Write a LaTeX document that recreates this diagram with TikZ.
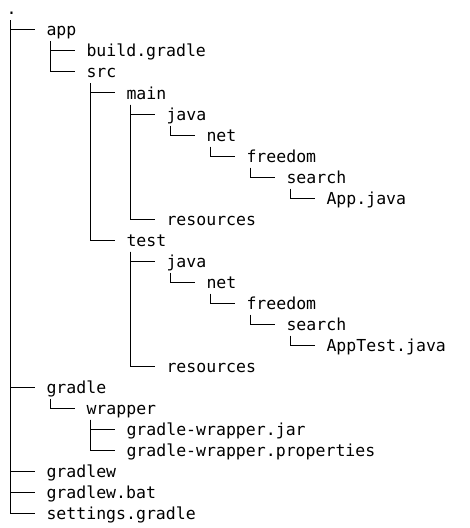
\documentclass[tikz,border=0pt]{standalone}
\usepackage{fontspec}
\setmonofont{DejaVu Sans Mono}
\begin{document}
\begin{tikzpicture}
  [x=0.75pt,y=-0.75pt,line width=0.75pt,
   every node/.style={anchor=west,inner xsep=8.25pt,inner ysep=0pt,
     text height=12.75pt,text depth=3.75pt,
     font=\ttfamily\fontsize{12.4}{14}\selectfont}]
  \useasboundingbox (0,0) rectangle (469,528);
  \node (root) at (-5,9) {.};
  \node (app) at (35,30) {app};
  \node (buildgradle) at (75,51) {build.gradle};
  \node (src) at (75,72) {src};
  \node (main) at (115,93) {main};
  \node (mjava) at (155,114) {java};
  \node (mnet) at (195,135) {net};
  \node (mfreedom) at (235,156) {freedom};
  \node (msearch) at (275,177) {search};
  \node (appjava) at (315,198) {App.java};
  \node (mres) at (155,219) {resources};
  \node (test) at (115,240) {test};
  \node (tjava) at (155,261) {java};
  \node (tnet) at (195,282) {net};
  \node (tfreedom) at (235,303) {freedom};
  \node (tsearch) at (275,324) {search};
  \node (apptest) at (315,345) {AppTest.java};
  \node (tres) at (155,366) {resources};
  \node (gradle) at (35,387) {gradle};
  \node (wrapper) at (75,408) {wrapper};
  \node (wjar) at (115,429) {gradle-wrapper.jar};
  \node (wprops) at (115,450) {gradle-wrapper.properties};
  \node (gradlew) at (35,471) {gradlew};
  \node (gradlewbat) at (35,492) {gradlew.bat};
  \node (settings) at (35,513) {settings.gradle};
  \foreach \from/\to in {root/app,root/gradle,root/gradlew,root/gradlewbat,root/settings,
      app/buildgradle,app/src,src/main,src/test,
      main/mjava,main/mres,mjava/mnet,mnet/mfreedom,mfreedom/msearch,msearch/appjava,
      test/tjava,test/tres,tjava/tnet,tnet/tfreedom,tfreedom/tsearch,tsearch/apptest,
      gradle/wrapper,wrapper/wjar,wrapper/wprops}
    \draw ([xshift=-18.75pt]\to.west |- \from.south) |- (\to.west);
\end{tikzpicture}
\end{document}
